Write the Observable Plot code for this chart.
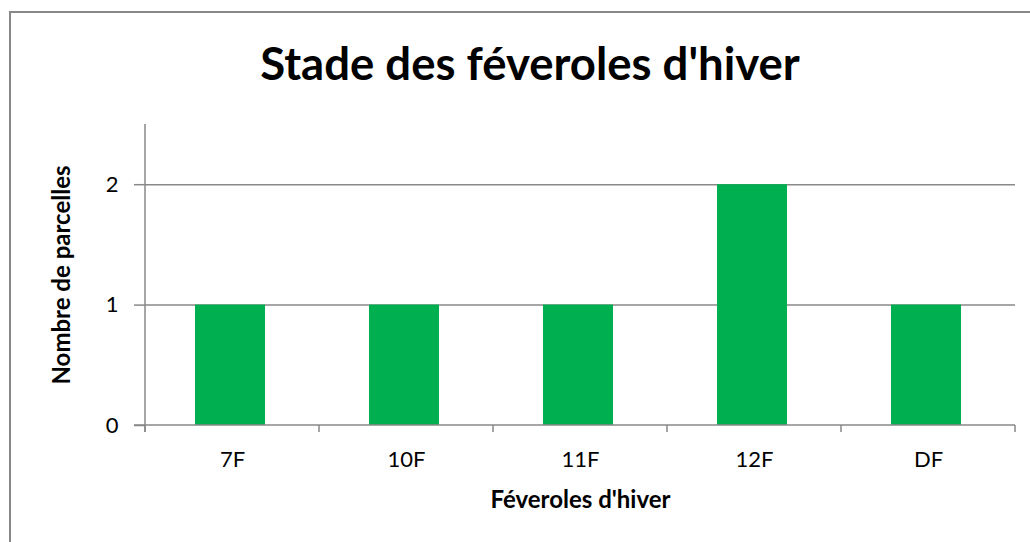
<!DOCTYPE html>
<html>
<head>
<meta charset="utf-8">
<script src="https://cdn.jsdelivr.net/npm/d3@7"></script>
<script src="https://cdn.jsdelivr.net/npm/@observablehq/plot@0.6"></script>
<style>
  body { margin: 0; background: #fff; width: 1030px; height: 542px; overflow: hidden; position: relative; font-family: Lato, "Noto Sans", sans-serif; }
  #frame { position: absolute; left: 9px; top: 11px; width: 1100px; height: 600px; border-left: 2px solid #888; border-top: 2px solid #888; }
  #title { position: absolute; left: 0; top: 41px; width: 1060px; text-align: center; font: bold 45.5px Lato, sans-serif; line-height: 44px; color: #000; }
  #chart { position: absolute; left: 0; top: 100px; }
</style>
</head>
<body>
<div id="frame"></div>
<div id="title">Stade des féveroles d'hiver</div>
<div id="chart"></div>
<script>
const stades = ["7F", "10F", "11F", "12F", "DF"];
const parcelles = [1, 1, 1, 2, 1];
const yTicks = [0, 1, 2];
const xTitle = "Féveroles d'hiver";
const yTitle = "Nombre de parcelles";

const data = stades.map((s, i) => ({stade: s, n: parcelles[i]}));
const gray = "#888";
const NS = "http://www.w3.org/2000/svg";

function axesLines(index, scales, values, dimensions) {
  const {width, height, marginLeft, marginRight, marginTop, marginBottom} = dimensions;
  const g = document.createElementNS(NS, "g");
  const y0 = scales.y(0);
  const line = (x1, y1, x2, y2) => {
    const l = document.createElementNS(NS, "line");
    l.setAttribute("x1", x1); l.setAttribute("y1", y1);
    l.setAttribute("x2", x2); l.setAttribute("y2", y2);
    l.setAttribute("stroke", gray); l.setAttribute("stroke-width", 1.5);
    g.appendChild(l);
  };
  line(marginLeft, marginTop, marginLeft, y0 + 7);
  line(marginLeft - 11, y0, width - marginRight, y0);
  const step = scales.x(stades[1]) - scales.x(stades[0]);
  const bounds = stades.map(s => scales.x(s)).concat([scales.x(stades[stades.length - 1]) + step]);
  bounds.forEach(b => line(b, y0, b, y0 + 7));
  return g;
}

const chart = Plot.plot({
  width: 1030,
  height: 442,
  marginTop: 24,
  marginBottom: 117,
  marginLeft: 145,
  marginRight: 15,
  style: {fontFamily: "Lato, sans-serif", color: "#000", background: "transparent"},
  x: {type: "band", domain: stades, padding: 0, label: null},
  y: {domain: [0, 2.5], label: null},
  marks: [
    Plot.gridY(yTicks.filter(t => t > 0), {stroke: gray, strokeOpacity: 1, strokeWidth: 1.5}),
    Plot.barY(data, {x: "stade", y: "n", fill: "#00B050", insetLeft: 50, insetRight: 54}),
    Plot.axisY(yTicks, {tickSize: 11, tickPadding: 16, tickFormat: d => String(d), stroke: gray, strokeWidth: 1.5, fontSize: 22, fill: "#000", label: null}),
    Plot.axisX({tickSize: 0, tickPadding: 26, fontSize: 22, fill: "#000", label: null}),
    axesLines,
    Plot.text([xTitle], {frameAnchor: "bottom", dy: 75, lineAnchor: "middle", fontSize: 24, fontWeight: "bold", fill: "#000"}),
    Plot.text([yTitle], {frameAnchor: "left", dx: -83, rotate: -90, textAnchor: "middle", lineAnchor: "middle", fontSize: 24, fontWeight: "bold", fill: "#000"})
  ]
});
document.getElementById("chart").appendChild(chart);
</script>
</body>
</html>
